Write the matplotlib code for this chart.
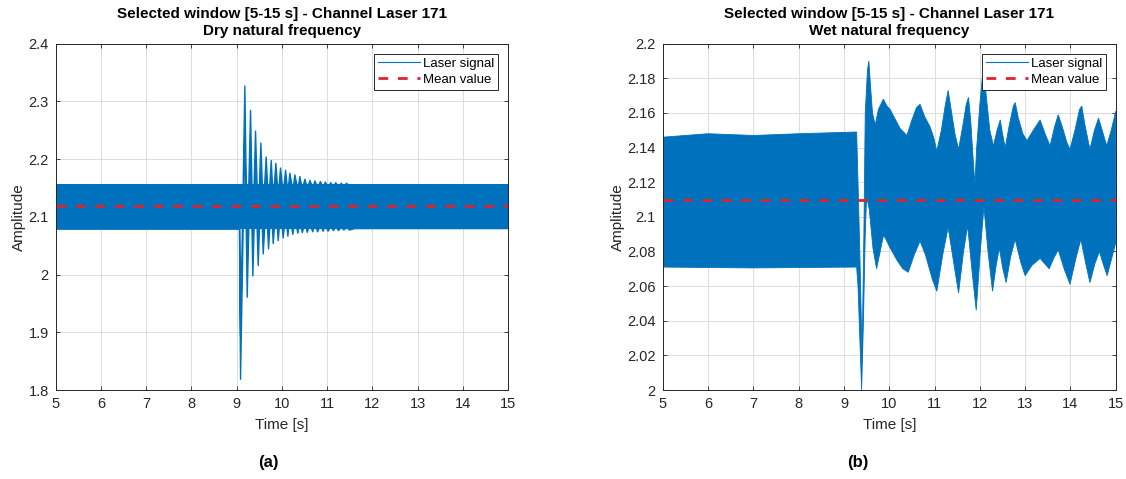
import numpy as np
import matplotlib.pyplot as plt
from matplotlib.lines import Line2D

plt.rcParams['font.family'] = ['Liberation Sans', 'DejaVu Sans']

# ---- dry case: slow oscillation extremes (centre of the noise band) ----
dry_t = [5.0, 9.05, 9.075, 9.17, 9.222, 9.296, 9.347, 9.406, 9.465, 9.524,
         9.576, 9.642, 9.694, 9.753, 9.797, 9.856, 9.908, 9.959, 10.018,
         10.070, 10.121, 10.165, 10.232, 10.276, 10.342, 10.387, 10.44,
         10.50, 10.55, 10.61, 10.67, 10.72, 10.78, 10.84, 10.90, 10.95,
         11.01, 11.07, 11.13, 11.18, 11.24, 11.30, 11.36, 11.42, 11.48,
         11.60, 15.0]
dry_mid = [2.1175, 2.1175, 1.8575, 2.2895, 1.9995, 2.2475, 2.0365, 2.2115,
           2.0545, 2.1905, 2.0745, 2.1665, 2.0835, 2.1605, 2.0925, 2.1555,
           2.0975, 2.1475, 2.1025, 2.1435, 2.1055, 2.1385, 2.1085, 2.1355,
           2.1105, 2.1325, 2.1115, 2.128, 2.112, 2.126, 2.113, 2.125, 2.113,
           2.124, 2.114, 2.123, 2.114, 2.122, 2.115, 2.122, 2.115, 2.121,
           2.116, 2.121, 2.116, 2.1185, 2.1185]
dry_half = 0.038
dry_band = [2.0795, 2.157]
dry_mean = 2.118

# ---- wet case: upper / lower envelope of the signal ----
wet_up_t = [5.0, 6.0, 7.0, 8.0, 9.28, 9.31, 9.35, 9.40, 9.44, 9.47, 9.52,
            9.55, 9.58, 9.63, 9.69, 9.76, 9.87, 9.95, 10.02, 10.12, 10.24,
            10.39, 10.50, 10.60, 10.68, 10.78, 10.90, 10.98, 11.05, 11.15,
            11.24, 11.30, 11.36, 11.45, 11.53, 11.62, 11.70, 11.75, 11.80,
            11.86, 11.89, 11.93, 12.00, 12.06, 12.09, 12.14, 12.22, 12.30,
            12.38, 12.45, 12.50, 12.56, 12.65, 12.74, 12.78, 12.85, 12.95,
            13.04, 13.18, 13.33, 13.44, 13.55, 13.65, 13.73, 13.82, 13.92,
            13.99, 14.10, 14.20, 14.25, 14.32, 14.43, 14.53, 14.62, 14.70,
            14.80, 14.90, 15.0]
wet_up_v = [2.146, 2.148, 2.147, 2.148, 2.149, 2.12, 2.08, 2.02, 2.09, 2.16,
            2.185, 2.190, 2.178, 2.160, 2.153, 2.162, 2.168, 2.164, 2.162,
            2.157, 2.151, 2.147, 2.156, 2.163, 2.165, 2.158, 2.152, 2.146,
            2.138, 2.150, 2.165, 2.173, 2.163, 2.148, 2.139, 2.152, 2.165,
            2.169, 2.155, 2.130, 2.119, 2.140, 2.165, 2.182, 2.185, 2.170,
            2.150, 2.141, 2.150, 2.156, 2.148, 2.140, 2.153, 2.164, 2.166,
            2.157, 2.148, 2.144, 2.150, 2.156, 2.148, 2.141, 2.152, 2.159,
            2.152, 2.143, 2.139, 2.150, 2.162, 2.164, 2.153, 2.139, 2.150,
            2.157, 2.150, 2.141, 2.150, 2.161]
wet_lo_t = [5.0, 7.0, 9.28, 9.31, 9.35, 9.39, 9.43, 9.47, 9.50, 9.56, 9.64,
            9.72, 9.80, 9.87, 9.91, 10.0, 10.17, 10.30, 10.42, 10.55, 10.68,
            10.80, 10.95, 11.05, 11.18, 11.30, 11.42, 11.53, 11.64, 11.73,
            11.83, 11.92, 12.01, 12.09, 12.18, 12.28, 12.36, 12.43, 12.50,
            12.58, 12.68, 12.78, 12.90, 13.00, 13.15, 13.33, 13.43, 13.53,
            13.63, 13.73, 13.86, 13.99, 14.12, 14.23, 14.33, 14.43, 14.54,
            14.64, 14.72, 14.81, 14.90, 15.0]
wet_lo_v = [2.071, 2.0705, 2.071, 2.06, 2.03, 2.0, 2.04, 2.09, 2.112, 2.104,
            2.082, 2.070, 2.080, 2.089, 2.088, 2.083, 2.075, 2.070, 2.068,
            2.078, 2.086, 2.078, 2.064, 2.057, 2.078, 2.094, 2.074, 2.056,
            2.080, 2.095, 2.068, 2.046, 2.080, 2.106, 2.080, 2.057, 2.072,
            2.082, 2.071, 2.062, 2.077, 2.087, 2.074, 2.066, 2.072, 2.076,
            2.073, 2.070, 2.076, 2.081, 2.070, 2.061, 2.076, 2.087, 2.074,
            2.062, 2.073, 2.080, 2.073, 2.066, 2.075, 2.085]
wet_mean = 2.11

blue = '#0072BD'
red = '#D9262B'
dark = '#262626'
dash = (0, (3.5, 3.5))


def style_axes(ax, yticks, ylabels):
    ax.set_xlim(5, 15)
    ax.set_xticks(range(5, 16))
    ax.set_yticks(yticks)
    ax.set_yticklabels(ylabels)
    ax.set_ylim(yticks[0], yticks[-1])
    ax.grid(True, color='#DCDCDC', linewidth=0.7)
    ax.set_axisbelow(True)
    ax.tick_params(direction='in', top=True, right=True, length=3,
                   labelsize=10.5, colors=dark, width=0.6, pad=5)
    for s in ax.spines.values():
        s.set_color(dark)
        s.set_linewidth(0.7)
    ax.set_xlabel('Time [s]', fontsize=11, color=dark, labelpad=5)
    ax.set_ylabel('Amplitude', fontsize=11, color=dark, labelpad=2)
    handles = [Line2D([], [], color=blue, lw=0.8),
               Line2D([], [], color=red, lw=2, linestyle=dash)]
    leg = ax.legend(handles, ['Laser signal', 'Mean value'], loc='upper right',
                    fontsize=9.5, fancybox=False, edgecolor=dark, framealpha=1,
                    borderpad=0.3, labelspacing=0.3, handlelength=3.2,
                    handletextpad=0.2, borderaxespad=0.75)
    leg.get_frame().set_linewidth(0.7)


fig = plt.figure(figsize=(11.26, 4.79), dpi=100)
ax1 = fig.add_axes([0.0495, 0.1858, 0.4017, 0.7230])
ax2 = fig.add_axes([0.5886, 0.1858, 0.4023, 0.7230])

# (a) dry
mid = np.array(dry_mid)
ax1.fill_between([5, 15], dry_band[0], dry_band[1], color=blue, linewidth=0)
ax1.fill_between(dry_t, mid - dry_half, mid + dry_half, color=blue,
                 linewidth=1.0, edgecolor=blue)
ax1.axhline(dry_mean, color=red, lw=2, linestyle=dash)
style_axes(ax1, [1.8, 1.9, 2.0, 2.1, 2.2, 2.3, 2.4],
           ['1.8', '1.9', '2', '2.1', '2.2', '2.3', '2.4'])
ax1.set_title('Selected window [5-15 s] - Channel Laser 171\nDry natural frequency',
              fontsize=11, fontweight='bold', pad=6.5, linespacing=1.25)

# (b) wet
poly_x = wet_up_t + wet_lo_t[::-1]
poly_y = wet_up_v + wet_lo_v[::-1]
ax2.fill(poly_x, poly_y, color=blue, linewidth=0.6, edgecolor=blue)
ax2.axhline(wet_mean, color=red, lw=2, linestyle=dash)
style_axes(ax2, [2.0, 2.02, 2.04, 2.06, 2.08, 2.1, 2.12, 2.14, 2.16, 2.18, 2.2],
           ['2', '2.02', '2.04', '2.06', '2.08', '2.1', '2.12', '2.14',
            '2.16', '2.18', '2.2'])
ax2.set_title('Selected window [5-15 s] - Channel Laser 171\nWet natural frequency',
              fontsize=11, fontweight='bold', pad=6.5, linespacing=1.25)

fig.text(268 / 1126, 1 - 462 / 479, '(a)', ha='center', va='center',
         fontsize=12, fontweight='bold')
fig.text(858 / 1126, 1 - 462 / 479, '(b)', ha='center', va='center',
         fontsize=12, fontweight='bold')

fig.savefig('out.png', dpi=100)
